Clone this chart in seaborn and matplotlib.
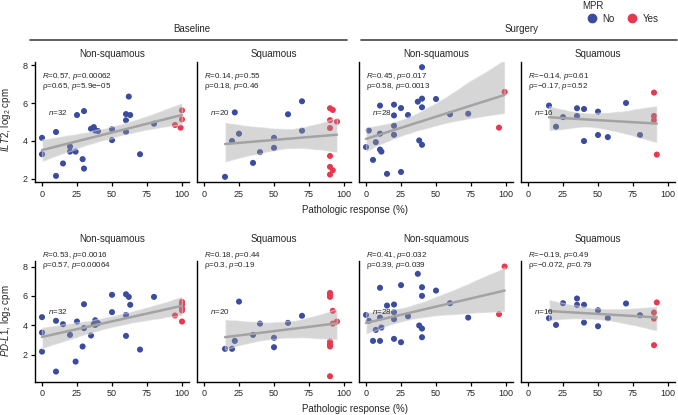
import numpy as np
import pandas as pd
import seaborn as sns
import matplotlib.pyplot as plt
from matplotlib.lines import Line2D

# pathologic response (%) and log2 cpm, one pair of lists per panel
ilt2_base_ns_x = [0, 0, 10, 10, 15, 20, 20, 24, 25, 30, 29, 30, 35, 37, 38, 40, 50, 50,
                  60, 60, 60, 62, 63, 70, 80, 95, 99, 100, 100]
ilt2_base_ns_y = [4.16, 3.29, 4.47, 2.14, 2.80, 3.70, 3.43, 3.43, 5.37, 5.58, 3.03, 2.53,
                  4.64, 4.73, 4.55, 4.52, 4.62, 4.04, 5.09, 4.48, 5.42, 6.35, 5.37, 3.29,
                  4.91, 4.84, 4.70, 5.62, 5.14]

ilt2_base_sq_x = [15, 22, 20, 25, 35, 40, 50, 50, 60, 70, 70,
                  90, 92, 90, 95, 90, 90, 90, 92, 90]
ilt2_base_sq_y = [2.09, 5.51, 3.99, 4.38, 2.83, 3.40, 4.16, 3.63, 5.41, 6.10, 4.54,
                  5.73, 5.64, 5.10, 5.02, 4.68, 3.20, 2.62, 2.44, 2.21]

ilt2_surg_ns_x = [40, 0, 2, 5, 7, 10, 11, 10, 10, 15, 20, 20, 20, 20, 25, 25, 30, 37,
                  40, 40, 38, 40, 50, 60, 73, 99, 95]
ilt2_surg_ns_y = [7.91, 3.67, 4.55, 2.99, 3.93, 3.54, 3.43, 4.38, 5.87, 2.25, 5.92, 5.35,
                  4.80, 4.32, 5.74, 2.35, 5.37, 6.08, 6.24, 5.78, 4.02, 3.79, 6.22, 5.41,
                  5.44, 6.60, 4.70]

ilt2_surg_sq_x = [15, 20, 25, 35, 35, 40, 40, 50, 50, 57, 70, 80, 90, 90, 90, 92]
ilt2_surg_sq_y = [5.87, 4.75, 5.26, 5.73, 5.32, 5.69, 3.99, 5.55, 4.31, 4.20, 6.01, 4.31,
                  6.56, 5.32, 5.10, 3.27]

pdl1_base_ns_x = [0, 0, 0, 10, 10, 15, 20, 25, 24, 29, 30, 30, 35, 38, 38, 40, 37, 50,
                  50, 60, 60, 60, 62, 63, 70, 80, 95, 100, 100, 100, 100, 100]
pdl1_base_ns_y = [4.55, 3.50, 2.20, 4.30, 0.84, 4.07, 3.34, 4.25, 1.52, 2.55, 5.43, 3.80,
                  3.30, 4.34, 4.02, 4.14, 4.07, 6.07, 4.89, 6.11, 4.70, 3.27, 5.93, 5.39,
                  2.34, 5.93, 4.66, 5.59, 5.16, 5.00, 4.25, 5.40]

pdl1_base_sq_x = [15, 20, 22, 25, 35, 40, 50, 50, 60, 70,
                  90, 90, 90, 92, 95, 92, 90, 90, 90, 90]
pdl1_base_sq_y = [2.39, 2.39, 2.93, 5.61, 3.34, 4.11, 3.14, 2.50, 4.16, 4.64,
                  6.20, 6.07, 5.93, 4.98, 4.25, 4.11, 2.89, 2.70, 2.55, 0.52]

pdl1_surg_ns_x = [0, 2, 5, 7, 10, 11, 10, 10, 15, 20, 20, 20, 20, 25, 25, 30, 37, 40,
                  40, 38, 40, 40, 50, 60, 73, 99, 95]
pdl1_surg_ns_y = [4.70, 4.30, 2.93, 3.68, 2.93, 3.84, 4.52, 6.55, 5.34, 5.41, 4.89, 4.41,
                  3.07, 6.73, 2.84, 4.61, 7.50, 6.59, 6.00, 3.98, 3.77, 3.18, 6.36, 5.50,
                  4.52, 8.00, 4.75]

pdl1_surg_sq_x = [15, 20, 25, 35, 35, 40, 40, 50, 50, 57, 70, 80, 92, 90, 90, 90]
pdl1_surg_sq_y = [4.48, 4.02, 5.50, 5.82, 5.39, 5.39, 4.18, 5.02, 3.93, 4.48, 5.48, 4.68,
                  5.55, 4.86, 4.45, 2.64]

subtypes = ["Non-squamous", "Squamous", "Non-squamous", "Squamous"]
r_labels = ["0.57, $\\it{p}$=0.00062", "0.14, $\\it{p}$=0.55", "0.45, $\\it{p}$=0.017",
            "\u22120.14, $\\it{p}$=0.61", "0.53, $\\it{p}$=0.0016", "0.18, $\\it{p}$=0.44",
            "0.41, $\\it{p}$=0.032", "\u22120.19, $\\it{p}$=0.49"]
rho_labels = ["0.65, $\\it{p}$=5.9e\u221205", "0.18, $\\it{p}$=0.46", "0.58, $\\it{p}$=0.0013",
              "\u22120.17, $\\it{p}$=0.52", "0.57, $\\it{p}$=0.00064", "0.3, $\\it{p}$=0.19",
              "0.39, $\\it{p}$=0.039", "\u22120.072, $\\it{p}$=0.79"]
n_labels = [32, 20, 28, 16, 32, 20, 28, 16]

panels = [(ilt2_base_ns_x, ilt2_base_ns_y), (ilt2_base_sq_x, ilt2_base_sq_y),
          (ilt2_surg_ns_x, ilt2_surg_ns_y), (ilt2_surg_sq_x, ilt2_surg_sq_y),
          (pdl1_base_ns_x, pdl1_base_ns_y), (pdl1_base_sq_x, pdl1_base_sq_y),
          (pdl1_surg_ns_x, pdl1_surg_ns_y), (pdl1_surg_sq_x, pdl1_surg_sq_y)]

blue = "#3A4BA0"
red = "#E8384F"

sns.set_style("ticks")
plt.rcParams["font.family"] = ["Liberation Sans", "DejaVu Sans"]
plt.rcParams["mathtext.fontset"] = "custom"
plt.rcParams["mathtext.rm"] = "Liberation Sans"
plt.rcParams["mathtext.it"] = "Liberation Sans:italic"
plt.rcParams["mathtext.bf"] = "Liberation Sans:bold"

W, H = 678, 415
fig, axes = plt.subplots(2, 4, figsize=(6.78, 4.15), dpi=100)
fig.subplots_adjust(left=35 / W, right=675 / W, top=1 - 61.7 / H, bottom=1 - 381.7 / H,
                    wspace=0.052, hspace=0.653)

ylims = [(1.80, 8.20), (0.15, 8.37)]
text_y = [(7.40, 6.87, 5.50), (8.73, 8.05, 4.95)]
title_pad = [3.5, 14]

for i, (xs, ys) in enumerate(panels):
    row, col = divmod(i, 4)
    ax = axes[row, col]
    df = pd.DataFrame({"resp": xs, "expr": ys})
    df["MPR"] = np.where(df["resp"] >= 90, "Yes", "No")

    sns.scatterplot(data=df, x="resp", y="expr", hue="MPR", hue_order=["No", "Yes"],
                    palette=[blue, red], s=19, linewidth=0, ax=ax, legend=False, zorder=1)
    sns.regplot(data=df, x="resp", y="expr", scatter=False, ax=ax, color="#a3a3a3",
                line_kws={"lw": 1.8}, seed=1)
    band = ax.collections[-1]
    band.set_facecolor("#999999")
    band.set_alpha(0.4)

    ax.set_xlim(-5, 105)
    ax.set_ylim(*ylims[row])
    ax.set_xticks([0, 25, 50, 75, 100])
    ax.set_yticks([2, 4, 6, 8])
    ax.set_xlabel("")
    ax.set_ylabel("")
    ax.set_title(subtypes[col], fontsize=7, pad=title_pad[row])
    ax.tick_params(labelsize=6.5, length=3, width=0.9, pad=2.5, color="black")
    sns.despine(ax=ax)
    for s in ["left", "bottom"]:
        ax.spines[s].set_linewidth(1.0)
        ax.spines[s].set_color("black")
    if col > 0:
        ax.tick_params(left=False, labelleft=False)

    y1, y2, yn = text_y[row]
    ax.text(0, y1, "$\\it{R}$=" + r_labels[i], fontsize=5.8, va="center", ha="left")
    ax.text(0, y2, "\u03c1=" + rho_labels[i], fontsize=5.8, va="center", ha="left")
    ax.text(4, yn, "$\\it{n}$=" + str(n_labels[i]), fontsize=5.8, va="center", ha="left")

# timepoint strips on top
for label, x0, x1, xc in [("Baseline", 30, 347, 192), ("Surgery", 361, 677, 522)]:
    fig.text(xc / W, 1 - 29 / H, label, fontsize=7, ha="center", va="center")
    fig.add_artist(Line2D([x0 / W, x1 / W], [1 - 40 / H] * 2, color="#444444", lw=1.2,
                          transform=fig.transFigure))

fig.text(355 / W, 1 - 210 / H, "Pathologic response (%)", fontsize=7, ha="center", va="center")
fig.text(355 / W, 1 - 409 / H, "Pathologic response (%)", fontsize=7, ha="center", va="center")
fig.text(6 / W, 1 - 120 / H, "$\\it{ILT2}$, log$_2$ cpm", fontsize=7, rotation=90,
         ha="center", va="center")
fig.text(6 / W, 1 - 321 / H, "$\\it{PD}$-$\\it{L1}$, log$_2$ cpm", fontsize=7, rotation=90,
         ha="center", va="center")

handles = [Line2D([], [], marker="o", ls="", color=blue, markersize=6, label="No"),
           Line2D([], [], marker="o", ls="", color=red, markersize=6, label="Yes")]
fig.legend(handles=handles, title="MPR", ncol=2, loc="upper left",
           bbox_to_anchor=(582 / W, 0.998), frameon=False, fontsize=7, title_fontsize=7,
           handletextpad=0.1, columnspacing=0.8, alignment="left", borderaxespad=0,
           borderpad=0.0, labelspacing=0.3)

fig.savefig("out.png", dpi=100)
